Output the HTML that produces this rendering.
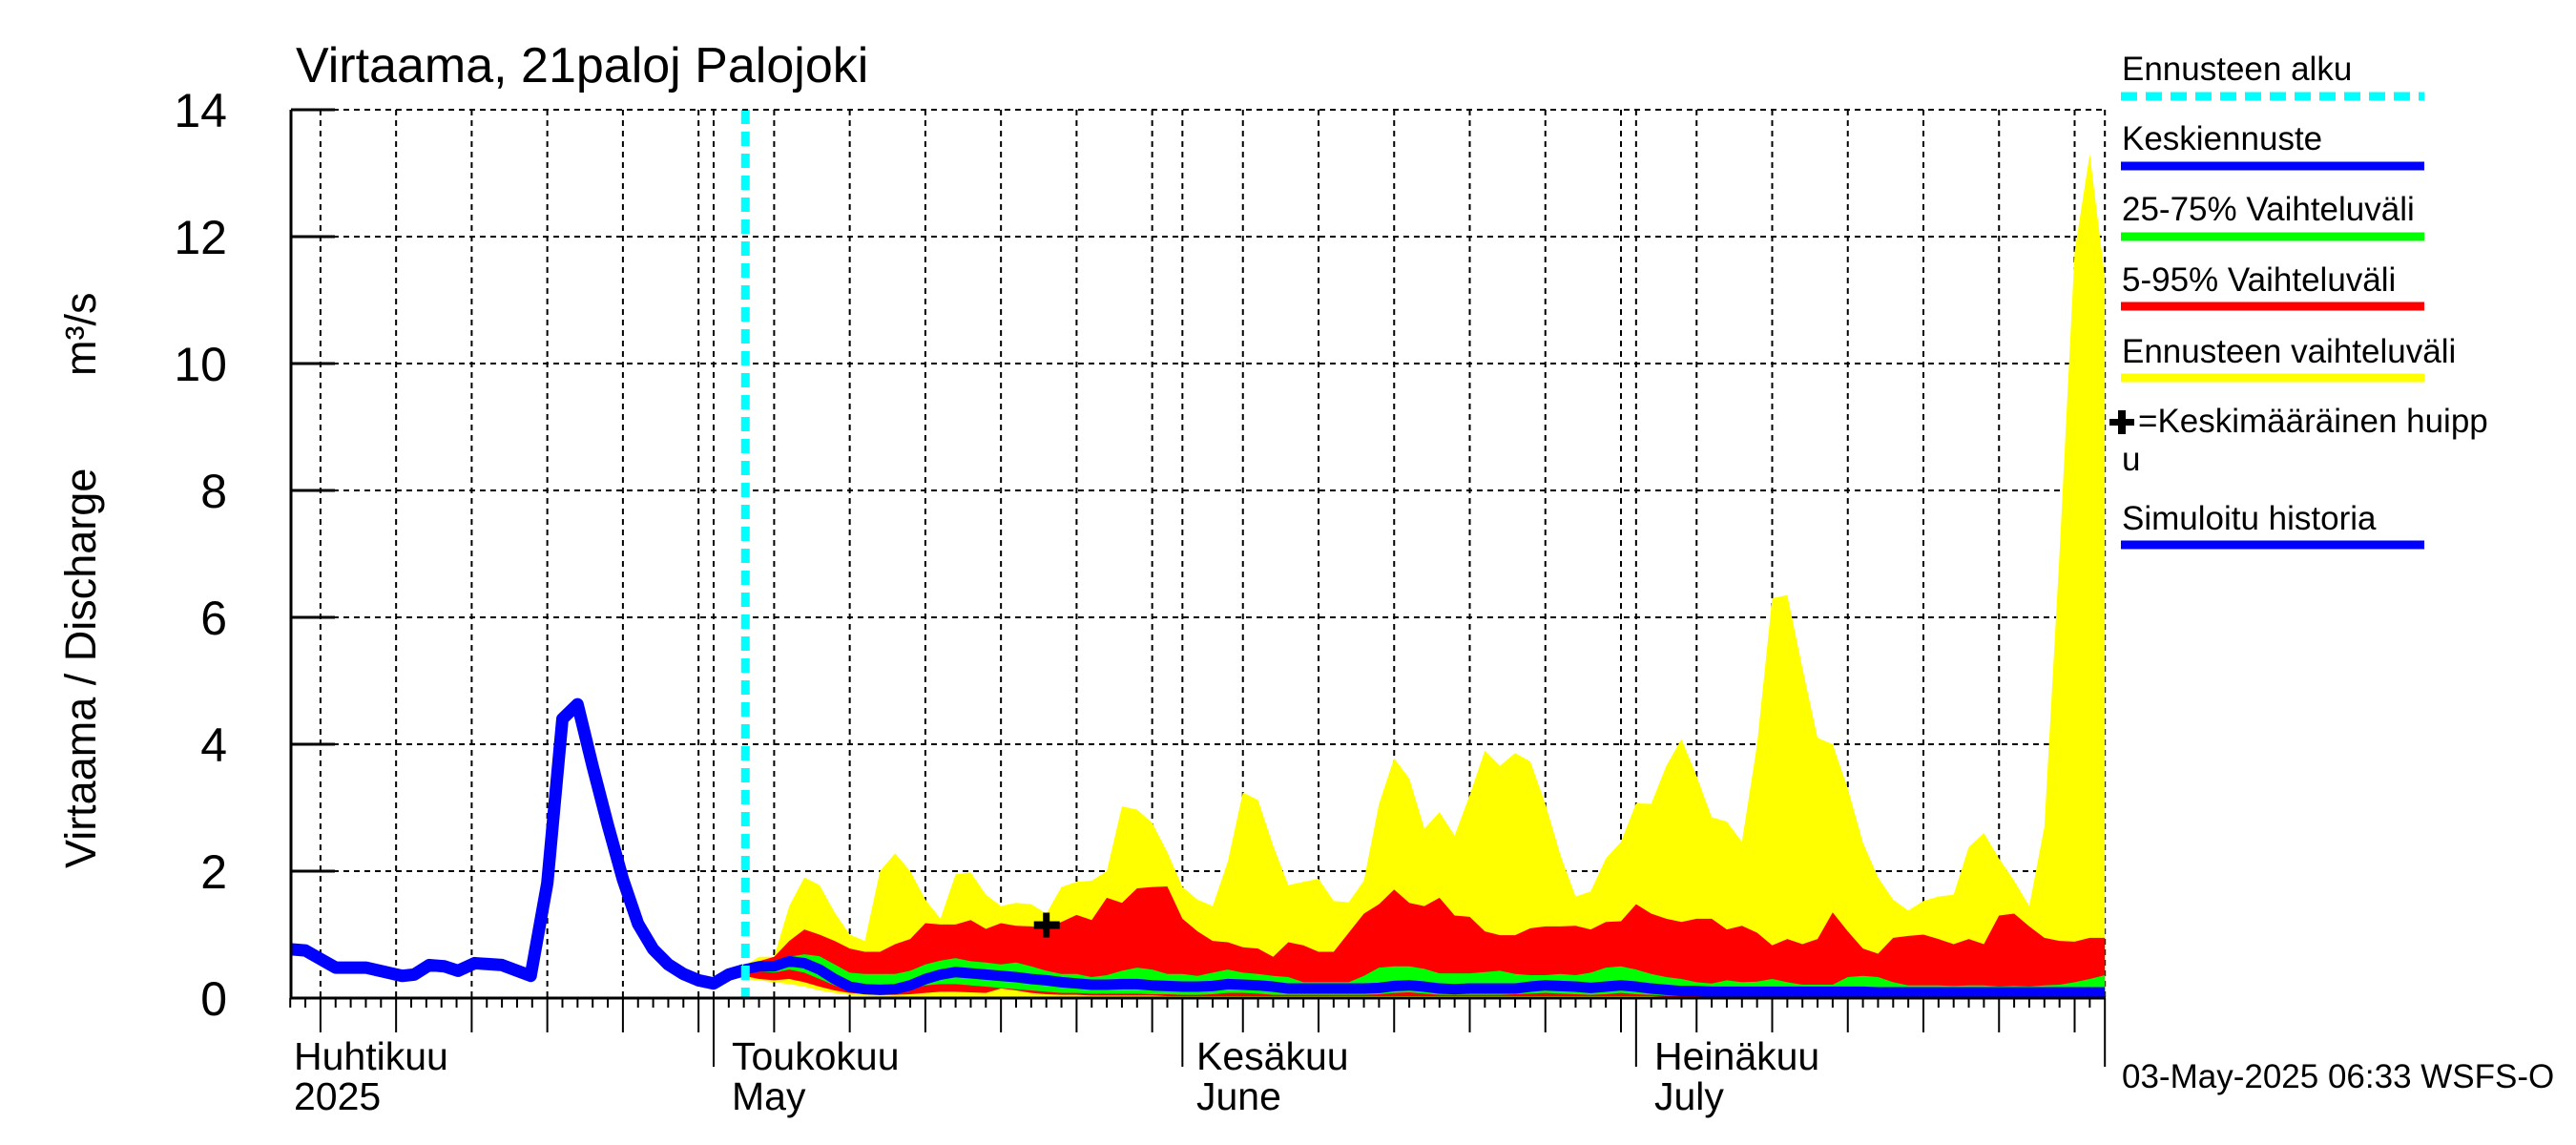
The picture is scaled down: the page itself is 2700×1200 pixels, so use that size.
<!DOCTYPE html>
<html><head><meta charset="utf-8"><style>
html,body{margin:0;padding:0;background:#fff;}
svg{display:block;font-family:"Liberation Sans",sans-serif;}
</style></head><body>
<svg id="chart" width="2700" height="1200" viewBox="0 0 2700 1200" xmlns="http://www.w3.org/2000/svg">
<rect width="2700" height="1200" fill="#fff"/>
<g id="grid"></g>
<g id="bands"></g>
<g id="lines"></g>
<g id="axes"></g>
<text x="310" y="86" font-size="52">Virtaama, 21paloj Palojoki</text>
<text transform="translate(100,910) rotate(-90)" font-size="45">Virtaama / Discharge</text>
<text transform="translate(100,394) rotate(-90)" font-size="45">m³/s</text>
<g font-size="35">
<text x="2224" y="84">Ennusteen alku</text>
<line x1="2223" y1="101" x2="2541" y2="101" stroke="#00ffff" stroke-width="9" stroke-dasharray="17,9"/>
<text x="2224" y="157">Keskiennuste</text>
<line x1="2223" y1="174" x2="2541" y2="174" stroke="#0000ff" stroke-width="9"/>
<text x="2224" y="231">25-75% Vaihteluväli</text>
<line x1="2223" y1="248" x2="2541" y2="248" stroke="#00ff00" stroke-width="9"/>
<text x="2224" y="305">5-95% Vaihteluväli</text>
<line x1="2223" y1="321" x2="2541" y2="321" stroke="#ff0000" stroke-width="9"/>
<text x="2224" y="380">Ennusteen vaihteluväli</text>
<line x1="2223" y1="396" x2="2541" y2="396" stroke="#ffff00" stroke-width="9"/>
<g><rect x="2211" y="439" width="26" height="7" fill="#000"/><rect x="2220" y="430" width="8" height="25" fill="#000"/></g>
<text x="2241" y="453">=Keskimääräinen huipp</text>
<text x="2224" y="493">u</text>
<text x="2224" y="555">Simuloitu historia</text>
<line x1="2223" y1="571" x2="2541" y2="571" stroke="#0000ff" stroke-width="9"/>
</g>
<text x="2224" y="1140" font-size="35">03-May-2025 06:33 WSFS-O</text>
<g font-size="41">
<text x="308" y="1121">Huhtikuu</text>
<text x="308" y="1163">2025</text>
<text x="767" y="1121">Toukokuu</text>
<text x="767" y="1163">May</text>
<text x="1254" y="1121">Kesäkuu</text>
<text x="1254" y="1163">June</text>
<text x="1734" y="1121">Heinäkuu</text>
<text x="1734" y="1163">July</text>
</g>
</svg>
<script>
// days relative to 1 May 2025
const yTicks=[0,2,4,6,8,10,12,14];
const histDays=[-28,-27,-25,-23,-20.6,-19.8,-18.8,-17.8,-16.9,-15.8,-14,-12.1,-11,-10,-9,-8,-7,-6,-5,-4,-3,-2,-1,0,1,2];
const histVals=[0.77,0.75,0.48,0.48,0.35,0.37,0.52,0.5,0.43,0.55,0.52,0.35,1.81,4.4,4.63,3.65,2.73,1.87,1.17,0.77,0.53,0.38,0.28,0.23,0.37,0.44];
const fcStartDay=2;
const yellowMax=[0.5,0.65,0.65,1.45,1.9,1.78,1.35,1.0,0.9,2.0,2.28,2.0,1.55,1.25,1.95,1.98,1.63,1.45,1.5,1.48,1.33,1.75,1.83,1.85,2.0,3.02,2.97,2.76,2.3,1.75,1.55,1.45,2.15,3.24,3.12,2.4,1.78,1.83,1.88,1.53,1.51,1.85,3.06,3.78,3.46,2.67,2.93,2.56,3.2,3.9,3.66,3.86,3.73,3.06,2.25,1.6,1.68,2.2,2.46,3.07,3.06,3.66,4.08,3.5,2.85,2.78,2.46,4.0,6.3,6.35,5.2,4.1,4.0,3.3,2.45,1.9,1.55,1.38,1.53,1.6,1.63,2.38,2.6,2.2,1.85,1.45,2.7,7.0,11.76,13.3,11.36];
const red95=[0.5,0.58,0.65,0.9,1.08,1.0,0.9,0.78,0.73,0.73,0.85,0.93,1.18,1.16,1.16,1.23,1.09,1.18,1.14,1.13,1.11,1.2,1.31,1.23,1.58,1.5,1.73,1.75,1.76,1.25,1.05,0.9,0.88,0.8,0.78,0.65,0.88,0.83,0.73,0.73,1.03,1.33,1.48,1.71,1.5,1.45,1.58,1.3,1.28,1.05,0.99,0.99,1.1,1.13,1.13,1.14,1.08,1.2,1.21,1.48,1.33,1.25,1.2,1.25,1.25,1.08,1.14,1.03,0.83,0.93,0.85,0.93,1.35,1.05,0.78,0.7,0.95,0.98,1.0,0.93,0.85,0.93,0.85,1.3,1.33,1.13,0.95,0.9,0.89,0.95,0.95];
const green75=[0.45,0.53,0.58,0.65,0.69,0.66,0.53,0.4,0.38,0.38,0.38,0.43,0.53,0.59,0.63,0.58,0.56,0.53,0.56,0.5,0.43,0.38,0.38,0.33,0.36,0.43,0.48,0.45,0.38,0.38,0.35,0.4,0.45,0.4,0.38,0.35,0.33,0.25,0.25,0.25,0.25,0.35,0.48,0.5,0.5,0.46,0.39,0.39,0.39,0.41,0.43,0.38,0.36,0.36,0.38,0.36,0.4,0.48,0.5,0.45,0.38,0.33,0.3,0.25,0.23,0.28,0.25,0.26,0.3,0.25,0.21,0.21,0.21,0.33,0.35,0.33,0.25,0.2,0.2,0.2,0.19,0.2,0.2,0.18,0.19,0.18,0.2,0.21,0.25,0.3,0.36];
const median=[0.45,0.5,0.5,0.58,0.55,0.45,0.3,0.18,0.14,0.13,0.14,0.2,0.3,0.37,0.41,0.39,0.37,0.35,0.33,0.3,0.28,0.25,0.23,0.21,0.21,0.22,0.22,0.2,0.19,0.18,0.18,0.19,0.22,0.21,0.2,0.18,0.15,0.15,0.15,0.15,0.15,0.15,0.16,0.19,0.2,0.18,0.15,0.14,0.15,0.15,0.15,0.15,0.18,0.2,0.19,0.18,0.16,0.18,0.2,0.18,0.15,0.13,0.11,0.11,0.1,0.1,0.1,0.1,0.1,0.1,0.1,0.1,0.1,0.1,0.1,0.09,0.09,0.09,0.09,0.09,0.09,0.09,0.09,0.09,0.09,0.09,0.09,0.09,0.09,0.09,0.09];
const green25=[0.4,0.42,0.4,0.45,0.4,0.3,0.2,0.12,0.1,0.1,0.1,0.15,0.2,0.22,0.22,0.2,0.18,0.16,0.14,0.12,0.1,0.08,0.08,0.07,0.07,0.07,0.07,0.06,0.06,0.05,0.05,0.06,0.08,0.08,0.07,0.05,0.05,0.05,0.05,0.05,0.05,0.05,0.06,0.08,0.09,0.07,0.05,0.05,0.05,0.05,0.05,0.06,0.07,0.08,0.07,0.06,0.05,0.06,0.08,0.06,0.05,0.04,0.03,0.03,0.03,0.03,0.03,0.03,0.03,0.03,0.03,0.03,0.03,0.03,0.03,0.03,0.03,0.03,0.03,0.03,0.03,0.03,0.03,0.03,0.03,0.03,0.03,0.03,0.03,0.03,0.03];
const red5=[0.35,0.3,0.28,0.3,0.25,0.18,0.12,0.08,0.06,0.05,0.05,0.06,0.08,0.1,0.1,0.09,0.08,0.15,0.12,0.08,0.06,0.05,0.05,0.04,0.04,0.04,0.04,0.04,0.03,0.03,0.03,0.03,0.03,0.03,0.03,0.03,0.03,0.03,0.03,0.03,0.03,0.03,0.03,0.03,0.03,0.03,0.03,0.03,0.03,0.03,0.03,0.03,0.03,0.03,0.03,0.03,0.03,0.03,0.03,0.03,0.03,0.02,0.02,0.02,0.02,0.02,0.02,0.02,0.02,0.02,0.02,0.02,0.02,0.02,0.02,0.02,0.02,0.02,0.02,0.02,0.02,0.02,0.02,0.02,0.02,0.02,0.02,0.02,0.02,0.02,0.02];
const yellowMin=[0.3,0.28,0.25,0.22,0.18,0.12,0.08,0.05,0.03,0.02,0.02,0.02,0.02,0.02,0.02,0.02,0.02,0.02,0.02,0.02,0.02,0.02,0.02,0.02,0.02,0.02,0.02,0.02,0.02,0.02,0.01,0.01,0.01,0.01,0.01,0.01,0.01,0.01,0.01,0.01,0.01,0.01,0.01,0.01,0.01,0.01,0.01,0.01,0.01,0.01,0.01,0.01,0.01,0.01,0.01,0.01,0.01,0.01,0.01,0.01,0.01,0.01,0.01,0.01,0.01,0.01,0.01,0.01,0.01,0.01,0.01,0.01,0.01,0.01,0.01,0.01,0.01,0.01,0.01,0.01,0.01,0.01,0.01,0.01,0.01,0.01,0.01,0.01,0.01,0.01,0.01];
const forecastStart=2.1;
const peakDay=[22];
const peakVal=[1.15];
const gridDays=[-26,-21,-16,-11,-6,-1,0,4,9,14,19,24,29,31,35,40,45,50,55,60,61,65,70,75,80,85,90];
const monthDays=[0,31,61,92];

const X0=748,PXD=15.85,Y0=1046,PXV=66.5,LEFT=305,RIGHT=2207,TOP=115;
const xs=d=>X0+d*PXD;
const ys=v=>Y0-v*PXV;
const NS="http://www.w3.org/2000/svg";
function mk(parent,tag,attrs){const e=document.createElementNS(NS,tag);for(const k in attrs)e.setAttribute(k,attrs[k]);parent.appendChild(e);return e;}
const grid=document.getElementById('grid'),bands=document.getElementById('bands'),lines=document.getElementById('lines'),axes=document.getElementById('axes');

yTicks.forEach(v=>{
  if(v>0){const l=mk(grid,'line',{x1:LEFT,y1:ys(v),x2:RIGHT,y2:ys(v),stroke:'#000','stroke-width':2,'stroke-dasharray':'6,5'});
  
  }
  const t=mk(axes,'line',{x1:LEFT,y1:ys(v),x2:LEFT+46,y2:ys(v),stroke:'#000','stroke-width':3});
  
  
  const tx=mk(axes,'text',{x:238,y:ys(v)+18,'text-anchor':'end','font-size':50});
  tx.textContent=v;
  
  
});
gridDays.concat([92]).forEach(d=>{
  const l=mk(grid,'line',{x1:xs(d),y1:TOP,x2:xs(d),y2:Y0,stroke:'#000','stroke-width':2,'stroke-dasharray':'6,5'});
  
  
});
const fcDays=yellowMax.map((_,i)=>fcStartDay+i);
function band(up,lo,color,name){
  let pts=fcDays.map((d,i)=>xs(d)+','+ys(up[i]));
  for(let i=fcDays.length-1;i>=0;i--)pts.push(xs(fcDays[i])+','+ys(lo[i]));
  const p=mk(bands,'polygon',{points:pts.join(' '),fill:color});
  
  
}
band(yellowMax,yellowMin,'#ffff00','forecast-range-band');
band(red95,red5,'#ff0000','band-5-95');
band(green75,green25,'#00ff00','band-25-75');
const med=mk(lines,'polyline',{points:fcDays.map((d,i)=>xs(d)+','+ys(median[i])).join(' '),fill:'none',stroke:'#0000ff','stroke-width':11,'stroke-linejoin':'round'});


const hist=mk(lines,'polyline',{points:histDays.map((d,i)=>xs(d)+','+ys(histVals[i])).join(' '),fill:'none',stroke:'#0000ff','stroke-width':13,'stroke-linejoin':'round'});


const cy=mk(lines,'line',{x1:xs(forecastStart),y1:TOP,x2:xs(forecastStart),y2:Y0,stroke:'#00ffff','stroke-width':9,'stroke-dasharray':'15,8'});


peakDay.forEach((d,i)=>{
  const g=mk(lines,'g',{});
  
  
  mk(g,'rect',{x:xs(d)-13,y:ys(peakVal[i])-4,width:27,height:8,fill:'#000'});
  mk(g,'rect',{x:xs(d)-3.5,y:ys(peakVal[i])-13,width:7,height:26,fill:'#000'});
});
// axes
const la=mk(axes,'line',{x1:LEFT,y1:TOP,x2:LEFT,y2:Y0+1,stroke:'#000','stroke-width':3});


const ba=mk(axes,'line',{x1:LEFT,y1:Y0,x2:RIGHT,y2:Y0,stroke:'#000','stroke-width':3});


const tl=mk(axes,'line',{x1:LEFT,y1:TOP,x2:RIGHT,y2:TOP,stroke:'#000','stroke-width':2,'stroke-dasharray':'6,5'});


for(let d=-28;d<=92;d++){
  let len=10;
  if(gridDays.includes(d))len=36;
  if(monthDays.includes(d))len=72;
  const t=mk(axes,'line',{x1:xs(d),y1:Y0,x2:xs(d),y2:Y0+len,stroke:'#000','stroke-width':2});
  
  
}
</script>
</body></html>
